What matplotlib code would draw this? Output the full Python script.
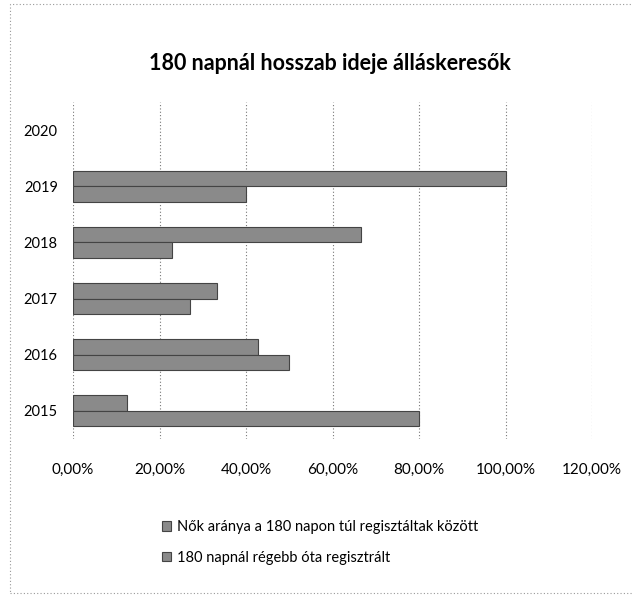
import matplotlib
matplotlib.use("Agg")
import matplotlib.pyplot as plt
from matplotlib.patches import Rectangle

years = ["2015", "2016", "2017", "2018", "2019", "2020"]
nok_arany = [12.5, 42.86, 33.33, 66.67, 100.0, None]
regebb = [80.0, 50.0, 27.0, 23.0, 40.0, None]
xticks = [0, 20, 40, 60, 80, 100, 120]
title = "180 napnál hosszab ideje álláskeresők"
labels = ["Nők aránya a 180 napon túl regisztáltak között",
          "180 napnál régebb óta regisztrált"]

plt.rcParams['font.family'] = ["Lato", "DejaVu Sans"]

fig = plt.figure(figsize=(6.33, 5.99), dpi=100)
ax = fig.add_axes([73/633, 1-439/599, (592-73)/633, (439-102)/599])

h = 0.275
ys = list(range(len(years)))
for i, (a, b) in enumerate(zip(nok_arany, regebb)):
    if a is not None:
        ax.barh(i + h/2, a, height=h, color="#8a8a8a", edgecolor="#444444", linewidth=0.8,
                label=labels[0] if i == 0 else None)
    if b is not None:
        ax.barh(i - h/2, b, height=h, color="#8a8a8a", edgecolor="#444444", linewidth=0.8,
                label=labels[1] if i == 0 else None)

ax.set_xlim(0, 120)
ax.set_ylim(-0.5, len(years) - 0.5)
ax.set_yticks(ys)
ax.set_yticklabels(years, fontsize=10.5)
ax.set_xticks(xticks)
ax.set_xticklabels([f"{v:.2f}%".replace(".", ",") for v in xticks], fontsize=11)
ax.tick_params(axis='y', length=0, pad=11)
ax.tick_params(axis='x', length=0, pad=17)
for s in ax.spines.values():
    s.set_visible(False)
ax.set_axisbelow(True)
ax.grid(axis='x', linestyle=(0, (1, 2)), color="#777777", linewidth=0.8)
ax.grid(axis='y', visible=False)

fig.text(330/633, 1-63/599, title, ha='center', va='center', fontsize=15.5, fontweight='bold')

handles, lbls = ax.get_legend_handles_labels()
leg = fig.legend(handles, lbls, loc='upper left', bbox_to_anchor=(149/633, 1-507/599),
                 frameon=False, fontsize=10.5, handlelength=0.6, handleheight=0.6,
                 handletextpad=0.4, labelspacing=1.15)

fig.patches.append(Rectangle((10/633, 0.01), 0.985, 1-4/599-0.01, transform=fig.transFigure,
                             fill=False, edgecolor="#999999", linestyle=(0, (1, 2)), linewidth=0.8))

fig.savefig("out.png", dpi=100)
